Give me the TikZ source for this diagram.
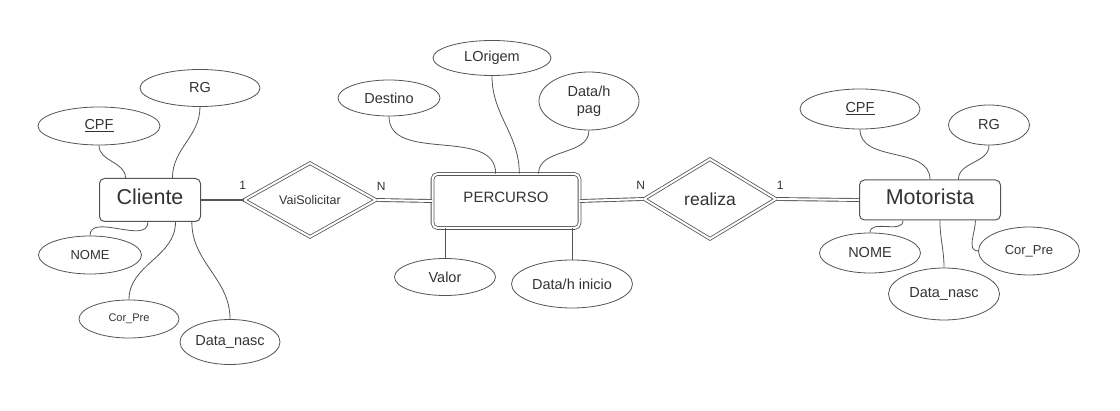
\documentclass[tikz,border=0pt]{standalone}
\usepackage{fontspec}
\setmainfont{Liberation Sans}
\usepackage{tikz}
\usetikzlibrary{shapes.geometric,calc}
\definecolor{linegray}{rgb}{0.33, 0.33, 0.33}
\definecolor{textgray}{rgb}{0.20, 0.20, 0.20}
\tikzstyle{entitystyle}=[draw=linegray,fill=white,rounded corners=5pt,line width=1pt,text=textgray,inner sep=0pt,text depth=7pt]
\tikzstyle{weakstyle}=[entitystyle,double=white,double distance=2pt,line width=0.8pt]
\tikzstyle{relstyle}=[diamond,draw=linegray,fill=white,double=white,double distance=2pt,line width=0.8pt,inner sep=0pt,text=textgray]
\tikzstyle{attrstyle}=[ellipse,draw=linegray,fill=white,line width=0.8pt,inner sep=0pt,text=textgray,minimum width=100pt,minimum height=38pt,align=center,font=\fontsize{14.5}{17}\selectfont]
\tikzstyle{attrlink}=[draw=linegray,line width=0.8pt]
\tikzstyle{rellink}=[draw=linegray,line width=0.9pt,double=white,double distance=2pt]
\tikzstyle{totallink}=[draw=linegray,line width=2.5pt]
\tikzstyle{cardstyle}=[text=textgray,inner sep=0pt,font=\fontsize{12}{14}\selectfont]

\begin{document}
\begin{tikzpicture}[x=1pt,y=-1pt]

  \useasboundingbox (0,0) rectangle (1120,411);

  % ENTITIES
  \node[entitystyle,minimum width=101pt,minimum height=43pt,font=\fontsize{21.5}{24}\selectfont] (cliente) at (150,200) {Cliente};
  \node[weakstyle,minimum width=147pt,minimum height=54pt,font=\fontsize{15}{18}\selectfont] (percurso) at (506,201) {PERCURSO};
  \node[entitystyle,minimum width=141pt,minimum height=40pt,font=\fontsize{21.5}{24}\selectfont] (motorista) at (930,200) {Motorista};

  % RELATIONSHIPS
  \node[relstyle,minimum width=132pt,minimum height=74pt,font=\fontsize{12.5}{15}\selectfont] (vai) at (310,200) {VaiSolicitar};
  \node[relstyle,minimum width=132pt,minimum height=80pt,font=\fontsize{17.5}{20}\selectfont] (realiza) at (710,199) {realiza};

  \draw[totallink] (cliente.east) -- (vai.west) node[cardstyle,pos=1,anchor=south,xshift=-1pt,yshift=9pt] (card1) {1};
  \draw[rellink] (vai.east) -- (percurso.west) node[cardstyle,pos=0,anchor=south west,yshift=9pt] (card2) {N};
  \draw[rellink] (percurso.east) -- (realiza.west) node[cardstyle,pos=1,anchor=south east,xshift=2pt,yshift=9pt] (card3) {N};
  \draw[rellink] (realiza.east) -- (motorista.west) node[cardstyle,pos=0,anchor=south west,yshift=9pt] (card4) {1};

  % CLIENTE ATTRIBUTES
  \node[attrstyle,minimum width=122pt] (cpfA) at (99,126) {\underline{CPF}};
  \node[attrstyle,minimum width=120pt,minimum height=37pt] (rgA) at (200,88) {RG};
  \node[attrstyle,minimum width=103pt,font=\fontsize{13}{15}\selectfont] (nomeA) at (90,255) {NOME};
  \node[attrstyle,font=\fontsize{11}{13}\selectfont] (corA) at (129,319) {Cor\_Pre};
  \node[attrstyle,minimum height=45pt] (dataA) at (230,342) {Data\_nasc};

  \draw[attrlink] (cpfA.south) to[out=-90,in=90] ($(cliente.north west)!.26!(cliente.north east)$);
  \draw[attrlink] (rgA.south) to[out=-90,in=90] ($(cliente.north west)!.72!(cliente.north east)$);
  \draw[attrlink] ($(cliente.south west)!.48!(cliente.south east)$) to[out=-90,in=90] (nomeA.north);
  \draw[attrlink] ($(cliente.south west)!.75!(cliente.south east)$) to[out=-90,in=90] (corA.north);
  \draw[attrlink] ($(cliente.south west)!.91!(cliente.south east)$) to[out=-90,in=90] (dataA.north);

  % PERCURSO ATTRIBUTES
  \node[attrstyle,minimum width=102pt,minimum height=36pt] (destino) at (389,98) {Destino};
  \node[attrstyle,minimum width=118pt,minimum height=35pt] (lorigem) at (492,58) {LOrigem};
  \node[attrstyle,minimum height=58pt] (datapag) at (589,101) {Data/h\\pag};
  \node[attrstyle,minimum width=101pt,minimum height=37pt] (valor) at (445,277) {Valor};
  \node[attrstyle,minimum width=121pt,minimum height=48pt] (inicio) at (572,284) {Data/h inicio};

  \draw[attrlink] (destino.south) to[out=-90,in=90] ($(percurso.north west)!.43!(percurso.north east)$);
  \draw[attrlink] (lorigem.south) to[out=-90,in=90] ($(percurso.north west)!.59!(percurso.north east)$);
  \draw[attrlink] (datapag.south) to[out=-90,in=90] ($(percurso.north west)!.72!(percurso.north east)$);
  \draw[attrlink] (valor.north) -- (valor.north |- percurso.south);
  \draw[attrlink] (inicio.north) -- (inicio.north |- percurso.south);

  % MOTORISTA ATTRIBUTES
  \node[attrstyle,minimum width=120pt,minimum height=40pt] (cpfB) at (860,109) {\underline{CPF}};
  \node[attrstyle,minimum width=81pt,minimum height=40pt] (rgB) at (989,125) {RG};
  \node[attrstyle,minimum width=101pt,minimum height=40pt] (nomeB) at (870,253) {NOME};
  \node[attrstyle,minimum width=111pt,minimum height=52pt] (dataB) at (944,294) {Data\_nasc};
  \node[attrstyle,minimum width=101pt,minimum height=48pt,font=\fontsize{13}{15}\selectfont] (corB) at (1029,251) {Cor\_Pre};

  \draw[attrlink] (cpfB.south) to[out=-90,in=90] ($(motorista.north west)!.5!(motorista.north east)$);
  \draw[attrlink] (rgB.south) to[out=-90,in=90] ($(motorista.north west)!.70!(motorista.north east)$);
  \draw[attrlink] ($(motorista.south west)!.31!(motorista.south east)$) to[out=-90,in=90] (nomeB.north);
  \draw[attrlink] ($(motorista.south west)!.57!(motorista.south east)$) to[out=-90,in=90] (dataB.north);
  \draw[attrlink] ($(motorista.south west)!.82!(motorista.south east)$) to[out=-90,in=180] (corB.west);

\end{tikzpicture}
\end{document}
